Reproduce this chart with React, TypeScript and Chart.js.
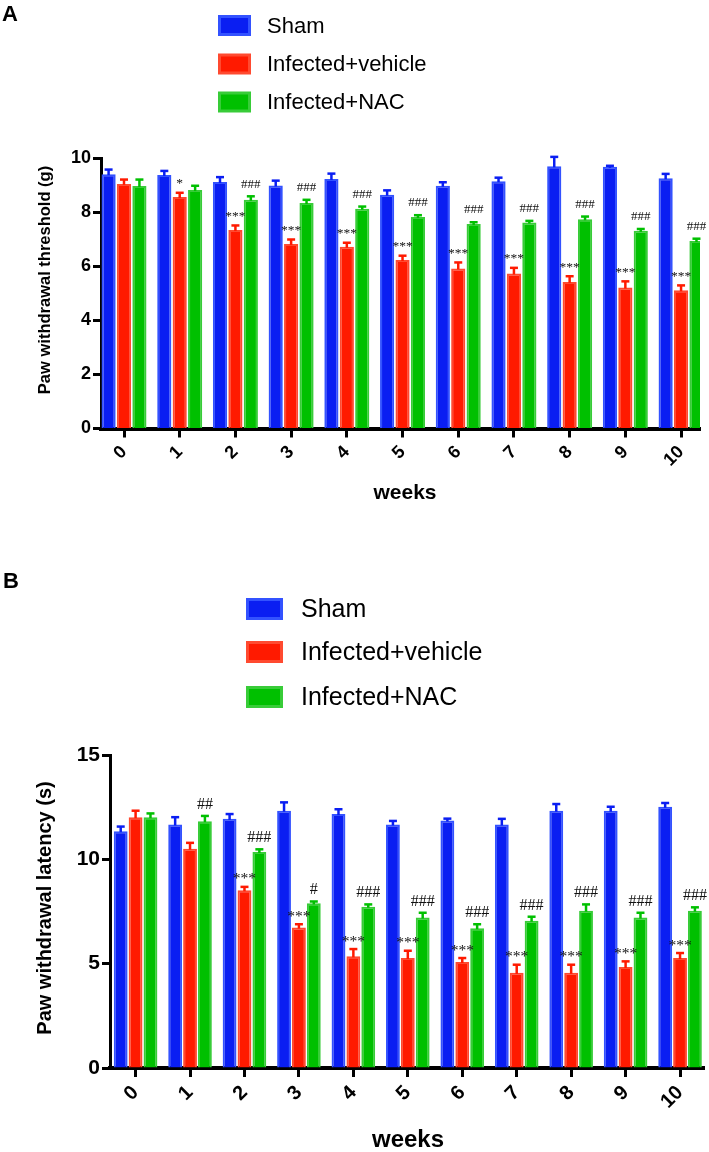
import React, { useEffect, useRef } from 'react';
import { Chart, registerables } from 'chart.js';

Chart.register(...registerables);

// ---------- data ----------
const weeks = ['0', '1', '2', '3', '4', '5', '6', '7', '8', '9', '10'];
const seriesNames = ['Sham', 'Infected+vehicle', 'Infected+NAC'];

// Panel A: Paw withdrawal threshold (g)
const thresholdSham = [9.42, 9.39, 9.13, 9.0, 9.24, 8.66, 8.99, 9.16, 9.71, 9.69, 9.27];
const thresholdShamErr = [0.17, 0.15, 0.18, 0.18, 0.2, 0.16, 0.13, 0.13, 0.35, 0.04, 0.16];
const thresholdVehicle = [9.06, 8.57, 7.35, 6.83, 6.73, 6.24, 5.93, 5.74, 5.43, 5.22, 5.12];
const thresholdVehicleErr = [0.16, 0.16, 0.17, 0.17, 0.15, 0.16, 0.22, 0.21, 0.21, 0.23, 0.18];
const thresholdNac = [8.98, 8.83, 8.47, 8.35, 8.14, 7.83, 7.57, 7.63, 7.75, 7.32, 6.94];
const thresholdNacErr = [0.24, 0.16, 0.13, 0.12, 0.08, 0.07, 0.07, 0.06, 0.1, 0.07, 0.09];
const thresholdVehicleMarks = ['', '*', '***', '***', '***', '***', '***', '***', '***', '***', '***'];
const thresholdNacMarks = ['', '', '###', '###', '###', '###', '###', '###', '###', '###', '###'];

// Panel B: Paw withdrawal latency (s)
const latencySham = [11.35, 11.67, 11.94, 12.33, 12.17, 11.67, 11.86, 11.67, 12.33, 12.33, 12.52];
const latencyShamErr = [0.22, 0.35, 0.23, 0.4, 0.23, 0.17, 0.09, 0.27, 0.32, 0.19, 0.18];
const latencyVehicle = [12.02, 10.51, 8.52, 6.73, 5.35, 5.27, 5.08, 4.56, 4.56, 4.84, 5.27];
const latencyVehicleErr = [0.31, 0.28, 0.16, 0.16, 0.35, 0.35, 0.19, 0.39, 0.39, 0.27, 0.24];
const latencyNac = [12.02, 11.83, 10.35, 7.89, 7.73, 7.21, 6.7, 7.06, 7.54, 7.21, 7.54];
const latencyNacErr = [0.18, 0.25, 0.13, 0.09, 0.11, 0.23, 0.19, 0.19, 0.3, 0.23, 0.16];
const latencyVehicleMarks = ['', '', '***', '***', '***', '***', '***', '***', '***', '***', '***'];
const latencyNacMarks = ['', '##', '###', '#', '###', '###', '###', '###', '###', '###', '###'];

// ---------- styles ----------
const fillColors = ['#0a1ef2', '#ff1a00', '#00c000'];
const edgeColors = ['#3352ff', '#ff4a30', '#38cc38'];
const SANS = '"Liberation Sans", Arial, Helvetica, sans-serif';
const SERIF = '"Liberation Serif", "Times New Roman", serif';

type PanelCfg = {
  width: number;
  height: number;
  area: { left: number; right: number; top: number; bottom: number };
  yMax: number;
  yStep: number;
  xMin: number;
  xMax: number;
  catPct: number;
  barPct: number;
  yTickSize: number;
  xTickSize: number;
  yTitle: string;
  yTitleSize: number;
  yTitleX: number;
  yTitleY: number;
  xTitle: string;
  xTitleSize: number;
  xTitleX: number;
  xTitleY: number;
  letter: string;
  letterX: number;
  letterY: number;
  letterSize: number;
  legend: { sqX: number; sqW: number; sqH: number; textX: number; size: number; rows: number[] };
  starSize: number;
  hashSize: number;
  starGap: number;
  hashGap: number;
  errWidth: number;
  capHalf: number;
  series: number[][];
  errors: number[][];
  marks: string[][];
};

function makeDecor(cfg: PanelCfg) {
  return {
    id: 'panelDecor',
    afterDatasetsDraw(chart: any) {
      const ctx: CanvasRenderingContext2D = chart.ctx;
      const ys = chart.scales.y;
      ctx.save();
      chart.data.datasets.forEach((ds: any, di: number) => {
        const meta = chart.getDatasetMeta(di);
        meta.data.forEach((bar: any, i: number) => {
          const v = cfg.series[di][i];
          const e = cfg.errors[di][i];
          const top = ys.getPixelForValue(v);
          const cap = ys.getPixelForValue(v + e);
          ctx.strokeStyle = fillColors[di];
          ctx.lineWidth = cfg.errWidth;
          ctx.lineCap = 'butt';
          ctx.beginPath();
          ctx.moveTo(bar.x, top + 1);
          ctx.lineTo(bar.x, cap);
          ctx.stroke();
          ctx.beginPath();
          ctx.moveTo(bar.x - cfg.capHalf, cap);
          ctx.lineTo(bar.x + cfg.capHalf, cap);
          ctx.stroke();
          const mark = cfg.marks[di] ? cfg.marks[di][i] : '';
          if (mark) {
            const isStar = mark.indexOf('*') >= 0;
            ctx.font = `${isStar ? cfg.starSize : cfg.hashSize}px ${SERIF}`;
            ctx.fillStyle = '#111';
            ctx.textAlign = 'center';
            ctx.textBaseline = 'alphabetic';
            const m = ctx.measureText(mark);
            const centerY = cap - (isStar ? cfg.starGap : cfg.hashGap);
            const base = centerY + (m.actualBoundingBoxAscent - m.actualBoundingBoxDescent) / 2;
            ctx.fillText(mark, bar.x, base);
          }
        });
      });
      ctx.restore();
    },
    afterDraw(chart: any) {
      const ctx: CanvasRenderingContext2D = chart.ctx;
      ctx.save();
      // panel letter
      ctx.fillStyle = '#000';
      ctx.font = `bold ${cfg.letterSize}px ${SANS}`;
      ctx.textAlign = 'left';
      ctx.textBaseline = 'top';
      ctx.fillText(cfg.letter, cfg.letterX, cfg.letterY);
      // legend
      const lg = cfg.legend;
      seriesNames.forEach((name, k) => {
        const cy = lg.rows[k];
        ctx.fillStyle = edgeColors[k];
        ctx.fillRect(lg.sqX, cy - lg.sqH / 2, lg.sqW, lg.sqH);
        ctx.fillStyle = fillColors[k];
        ctx.fillRect(lg.sqX + 3, cy - lg.sqH / 2 + 3, lg.sqW - 6, lg.sqH - 6);
        ctx.fillStyle = '#000';
        ctx.font = `${lg.size}px ${SANS}`;
        ctx.textAlign = 'left';
        ctx.textBaseline = 'middle';
        ctx.fillText(name, lg.textX, cy + 1);
      });
      // axis titles
      ctx.fillStyle = '#000';
      ctx.font = `bold ${cfg.xTitleSize}px ${SANS}`;
      ctx.textAlign = 'center';
      ctx.textBaseline = 'middle';
      ctx.fillText(cfg.xTitle, cfg.xTitleX, cfg.xTitleY);
      ctx.translate(cfg.yTitleX, cfg.yTitleY);
      ctx.rotate(-Math.PI / 2);
      ctx.font = `bold ${cfg.yTitleSize}px ${SANS}`;
      ctx.fillText(cfg.yTitle, 0, 0);
      ctx.restore();
    },
  };
}

function Panel({ cfg }: { cfg: PanelCfg }) {
  const ref = useRef<HTMLCanvasElement | null>(null);
  useEffect(() => {
    if (!ref.current) return;
    const datasets = seriesNames.map((name, k) => ({
      label: name,
      data: cfg.series[k].map((v, i) => ({ x: i, y: v })),
      backgroundColor: fillColors[k],
      borderColor: edgeColors[k],
      borderWidth: 2,
      categoryPercentage: cfg.catPct,
      barPercentage: cfg.barPct,
    }));
    const chart = new Chart(ref.current, {
      type: 'bar',
      data: { datasets },
      plugins: [makeDecor(cfg)],
      options: {
        responsive: false,
        animation: false,
        devicePixelRatio: 1,
        layout: {
          padding: {
            left: 0,
            right: cfg.width - cfg.area.right,
            top: cfg.area.top,
            bottom: 0,
          },
        },
        plugins: {
          legend: { display: false },
          tooltip: { enabled: false },
          title: { display: false },
        },
        scales: {
          x: {
            type: 'linear',
            offset: false,
            min: cfg.xMin,
            max: cfg.xMax,
            afterBuildTicks: (scale: any) => {
              scale.ticks = weeks.map((_, i) => ({ value: i }));
            },
            afterFit: (scale: any) => {
              scale.height = cfg.height - cfg.area.bottom;
            },
            border: { display: true, color: '#000', width: 4 },
            grid: {
              display: true,
              offset: false,
              drawOnChartArea: false,
              drawTicks: true,
              tickLength: 9,
              tickWidth: 3,
              tickColor: '#000',
              color: '#000',
            },
            ticks: {
              autoSkip: false,
              minRotation: 45,
              maxRotation: 45,
              padding: 4,
              color: '#000',
              font: { family: SANS, size: cfg.xTickSize, weight: 'bold' },
              callback: (_v: any, idx: number) => weeks[idx],
            },
          },
          y: {
            type: 'linear',
            min: 0,
            max: cfg.yMax,
            afterFit: (scale: any) => {
              scale.width = cfg.area.left;
            },
            border: { display: true, color: '#000', width: 3 },
            grid: {
              display: true,
              drawOnChartArea: false,
              drawTicks: true,
              tickLength: 8,
              tickWidth: 3,
              tickColor: '#000',
              color: '#000',
            },
            ticks: {
              stepSize: cfg.yStep,
              padding: 2,
              color: '#000',
              font: { family: SANS, size: cfg.yTickSize, weight: 'bold' },
            },
          },
        },
      } as any,
    });
    return () => chart.destroy();
  }, [cfg]);
  return (
    <canvas
      ref={ref}
      width={cfg.width}
      height={cfg.height}
      style={{ display: 'block', width: cfg.width, height: cfg.height }}
    />
  );
}

const panelA: PanelCfg = {
  width: 709,
  height: 540,
  area: { left: 101, right: 700, top: 158.5, bottom: 428.5 },
  yMax: 10,
  yStep: 2,
  xMin: -0.413,
  xMax: 10.34,
  catPct: 0.83,
  barPct: 0.92,
  yTickSize: 18,
  xTickSize: 18,
  yTitle: 'Paw withdrawal threshold (g)',
  yTitleSize: 16.5,
  yTitleX: 45,
  yTitleY: 280,
  xTitle: 'weeks',
  xTitleSize: 21,
  xTitleX: 405,
  xTitleY: 493,
  letter: 'A',
  letterX: 2,
  letterY: 4,
  letterSize: 22,
  legend: { sqX: 218, sqW: 33, sqH: 21, textX: 267, size: 22, rows: [25.5, 64, 102] },
  starSize: 13.5,
  hashSize: 13,
  starGap: 11,
  hashGap: 12.8,
  errWidth: 2.5,
  capHalf: 4,
  series: [thresholdSham, thresholdVehicle, thresholdNac],
  errors: [thresholdShamErr, thresholdVehicleErr, thresholdNacErr],
  marks: [[], thresholdVehicleMarks, thresholdNacMarks],
};

const panelB: PanelCfg = {
  width: 709,
  height: 612,
  area: { left: 110, right: 704, top: 215, bottom: 528 },
  yMax: 15,
  yStep: 5,
  xMin: -0.47,
  xMax: 10.44,
  catPct: 0.82,
  barPct: 0.93,
  yTickSize: 21,
  xTickSize: 20,
  yTitle: 'Paw withdrawal latency (s)',
  yTitleSize: 20,
  yTitleX: 45,
  yTitleY: 368,
  xTitle: 'weeks',
  xTitleSize: 24,
  xTitleX: 408,
  xTitleY: 600,
  letter: 'B',
  letterX: 3,
  letterY: 31,
  letterSize: 22,
  legend: { sqX: 246, sqW: 37, sqH: 22, textX: 301, size: 25, rows: [69, 112, 157] },
  starSize: 15.5,
  hashSize: 16,
  starGap: 10.5,
  hashGap: 12.7,
  errWidth: 2.5,
  capHalf: 4,
  series: [latencySham, latencyVehicle, latencyNac],
  errors: [latencyShamErr, latencyVehicleErr, latencyNacErr],
  marks: [[], latencyVehicleMarks, latencyNacMarks],
};

export default function App() {
  return (
    <div style={{ position: 'absolute', left: 0, top: 0, width: 709, height: 1152, background: '#fff' }}>
      <Panel cfg={panelA} />
      <Panel cfg={panelB} />
    </div>
  );
}
